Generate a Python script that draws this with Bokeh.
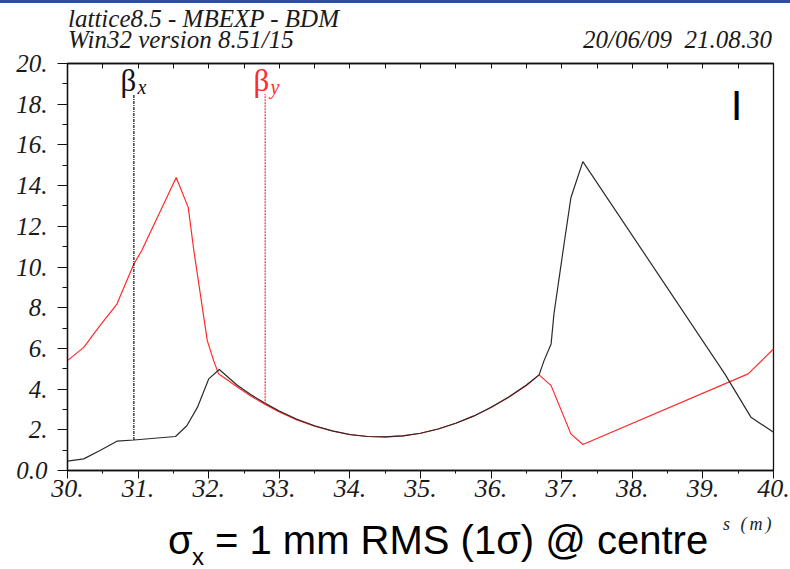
from bokeh.plotting import figure
from bokeh.models import Range1d, FixedTicker, LinearAxis, Label, Div
from bokeh.layouts import column
from bokeh.embed import file_html
from bokeh.resources import INLINE

# ---------------- data ----------------
s_x = [30.0, 30.23, 30.46, 30.70, 30.94, 31.53, 31.69, 31.84, 32.0, 32.15, 32.4, 32.6, 32.8,
       33.0, 33.25, 33.5, 33.75, 34.0, 34.25, 34.5, 34.75, 35.0, 35.25, 35.5, 35.75, 36.0,
       36.25, 36.5, 36.68, 36.75, 36.85, 36.89, 37.04, 37.13, 37.30, 39.31, 39.68, 40.0]
beta_x = [0.46, 0.57, 0.98, 1.44, 1.50, 1.67, 2.2, 3.1, 4.5, 4.96, 4.20, 3.72, 3.30,
          2.92, 2.52, 2.20, 1.95, 1.77, 1.67, 1.65, 1.70, 1.83, 2.04, 2.32, 2.67, 3.11,
          3.61, 4.20, 4.70, 5.4, 6.22, 7.69, 11.29, 13.4, 15.18, 4.75, 2.62, 1.88]

s_y = [30.0, 30.23, 30.46, 30.70, 30.94, 31.05, 31.54, 31.71, 31.79, 31.88, 31.98, 32.07,
       32.14, 32.4, 32.6, 32.8, 33.0, 33.25, 33.5, 33.75, 34.0, 34.25, 34.5, 34.75, 35.0,
       35.25, 35.5, 35.75, 36.0, 36.25, 36.5, 36.68, 36.85, 37.13, 37.30, 39.64, 40.0]
beta_y = [5.4, 6.05, 7.12, 8.18, 10.15, 10.8, 14.4, 12.93, 10.8, 8.7, 6.38, 5.4,
          4.75, 4.12, 3.65, 3.25, 2.88, 2.49, 2.18, 1.94, 1.76, 1.67, 1.65, 1.70, 1.83,
          2.04, 2.32, 2.67, 3.10, 3.60, 4.18, 4.70, 4.17, 1.8, 1.28, 4.75, 5.97]

marker_s = [30.94, 32.80]
marker_bottom = [1.50, 3.25]
marker_top = [18.5, 18.5]

x_ticks = [30, 31, 32, 33, 34, 35, 36, 37, 38, 39, 40]
x_tick_labels = ["30.", "31.", "32.", "33.", "34.", "35.", "36.", "37.", "38.", "39.", "40."]
x_minor = [30.5, 31.5, 32.5, 33.5, 34.5, 35.5, 36.5, 37.5, 38.5, 39.5]
top_ticks = [30, 30.5, 31, 31.5, 32, 32.5, 33, 33.5, 34, 34.5, 35, 35.5, 36, 36.5,
             37, 37.5, 38, 38.5, 39, 39.5, 40]
y_ticks = [0, 2, 4, 6, 8, 10, 12, 14, 16, 18, 20]
y_tick_labels = ["0.0", "2.", "4.", "6.", "8.", "10.", "12.", "14.", "16.", "18.", "20."]
y_minor = [1, 3, 5, 7, 9, 11, 13, 15, 17, 19]

header_1 = "lattice8.5 - MBEXP - BDM"
header_2 = "Win32 version 8.51/15"
header_date = "20/06/09&nbsp;&nbsp;21.08.30"
caption_main = "= 1 mm RMS (1&sigma;) @ centre"
axis_unit = "s (m)"

# ---------------- layout geometry (page px) ----------------
TOP_H = 49          # header strip
FIG_H = 466         # main figure
BOT_H = 569 - TOP_H - FIG_H
FL, FR, FT, FB = 67, 773, 63, 470   # frame edges on the page


def dx(px):
    return 30 + (px - FL) * 10.0 / (FR - FL)


def dy(py):
    return (FB - py) * 20.0 / (FB - FT)


p = figure(width=790, height=FIG_H, x_range=Range1d(30, 40), y_range=Range1d(0, 20),
           output_backend="svg", toolbar_location=None,
           min_border_left=FL, min_border_right=790 - FR,
           min_border_top=FT - TOP_H, min_border_bottom=TOP_H + FIG_H - FB)
p.xgrid.visible = False
p.ygrid.visible = False
p.outline_line_color = "#111111"
p.outline_line_width = 1.3
p.background_fill_color = "white"
p.border_fill_color = "white"

serif = "Liberation Serif"
sans = "Liberation Sans"

xa = p.xaxis[0]
xa.ticker = FixedTicker(ticks=x_ticks, minor_ticks=x_minor)
xa.major_label_overrides = {t: l for t, l in zip(x_ticks, x_tick_labels)}
xa.major_tick_out = 8
xa.major_tick_in = 0
xa.minor_tick_out = 3
xa.minor_tick_in = 0
xa.major_label_standoff = 1
xa.major_label_text_font = serif
xa.major_label_text_font_style = "italic"
xa.major_label_text_font_size = "26px"
xa.major_label_text_color = "#1a1a1a"
xa.axis_line_color = "#111111"
xa.axis_line_width = 1.3
xa.major_tick_line_color = "#111111"
xa.minor_tick_line_color = "#111111"

ya = p.yaxis[0]
ya.ticker = FixedTicker(ticks=y_ticks, minor_ticks=y_minor)
ya.major_label_overrides = {t: l for t, l in zip(y_ticks, y_tick_labels)}
ya.major_tick_out = 10
ya.major_tick_in = 0
ya.minor_tick_out = 5
ya.minor_tick_in = 0
ya.major_label_standoff = 10
ya.major_label_text_font = serif
ya.major_label_text_font_style = "italic"
ya.major_label_text_font_size = "25px"
ya.major_label_text_color = "#1a1a1a"
ya.axis_line_color = "#111111"
ya.axis_line_width = 1.3
ya.major_tick_line_color = "#111111"
ya.minor_tick_line_color = "#111111"

top = LinearAxis(ticker=FixedTicker(ticks=top_ticks, minor_ticks=[]),
                 major_tick_in=5, major_tick_out=0, minor_tick_in=0, minor_tick_out=0,
                 major_label_overrides={t: "" for t in top_ticks},
                 major_label_standoff=0, major_label_text_font_size="1px",
                 axis_line_color="#111111", axis_line_width=1.3,
                 major_tick_line_color="#111111")
p.add_layout(top, "above")

# curves
p.line(s_y, beta_y, color="#ff2a2a", line_width=1.2)
p.line(s_x, beta_x, color="#2a2a2a", line_width=1.2)

# beta markers
p.segment(x0=marker_s[:1], y0=marker_bottom[:1], x1=marker_s[:1], y1=marker_top[:1],
          color="#111111", line_width=1.2, line_dash="3 1 1 1")
p.segment(x0=marker_s[1:], y0=marker_bottom[1:], x1=marker_s[1:], y1=marker_top[1:],
          color="#ff2a2a", line_width=1.2, line_dash="2 1")


def lab(text, px, baseline_py, font, size, color="#1a1a1a", style="normal",
        align="left"):
    # placed by the middle of the text box: baseline sits ~0.34 em below it
    mid_py = baseline_py - 0.34 * size
    p.add_layout(Label(x=dx(px), y=dy(mid_py), text=text, text_font=font,
                       text_font_size=f"{size}px", text_font_style=style,
                       text_color=color, text_align=align,
                       text_baseline="middle"))


lab("\u03b2", 120, 91, serif, 31, color="#111111")
lab("x", 137, 93, serif, 20, color="#111111", style="italic")
lab("\u03b2", 253, 91, serif, 31, color="#ff2a2a")
lab("y", 270, 93, serif, 20, color="#ff2a2a", style="italic")

lab("I", 736, 119, sans, 42, color="#000000", align="center")


# ---------------- header and caption strips (HTML text) ----------------
def span(text, left=None, right=None, top=0.0, font=serif, size=22, lh=None,
         style="normal", color="#1a1a1a", spacing=0):
    pos = f"left:{left}px;" if left is not None else f"right:{right}px;"
    lh = size if lh is None else lh
    return (f'<span style="position:absolute;{pos}top:{top:.2f}px;'
            f'font-family:\'{font}\';font-style:{style};font-size:{size}px;'
            f'line-height:{lh}px;letter-spacing:{spacing}px;'
            f'color:{color};white-space:pre;">{text}</span>')


head_html = (
    f'<div style="position:relative;width:790px;height:{TOP_H}px;background:white;">'
    '<div style="position:absolute;left:0;top:0;width:790px;height:3px;'
    'background:#2a4f9c;"></div>'
    + span(header_1 + "<br>" + header_2, left=68, top=8.05, size=25, lh=21,
           style="italic")
    + span(header_date, right=18, top=29.05, size=25, lh=21, style="italic")
    + '</div>'
)

y0 = TOP_H + FIG_H
foot_html = (
    f'<div style="position:relative;width:790px;height:{BOT_H}px;background:white;">'
    + span("&sigma;", left=168, top=520.1 - y0, font=sans, size=40, color="#000")
    + span("x", left=192, top=544.7 - y0, font=sans, size=24, color="#000")
    + span(caption_main, left=215, top=520.1 - y0, font=sans, size=40, color="#000")
    + span(axis_unit, left=723, top=0, size=18, style="italic", spacing=3)
    + '</div>'
)

head = Div(text=head_html, width=790, height=TOP_H, margin=(0, 0, 0, 0),
           styles={"overflow": "visible"})
foot = Div(text=foot_html, width=790, height=BOT_H, margin=(0, 0, 0, 0),
           styles={"overflow": "visible"})

layout = column(head, p, foot, spacing=0)

open("out.html", "w").write(file_html(layout, INLINE))
